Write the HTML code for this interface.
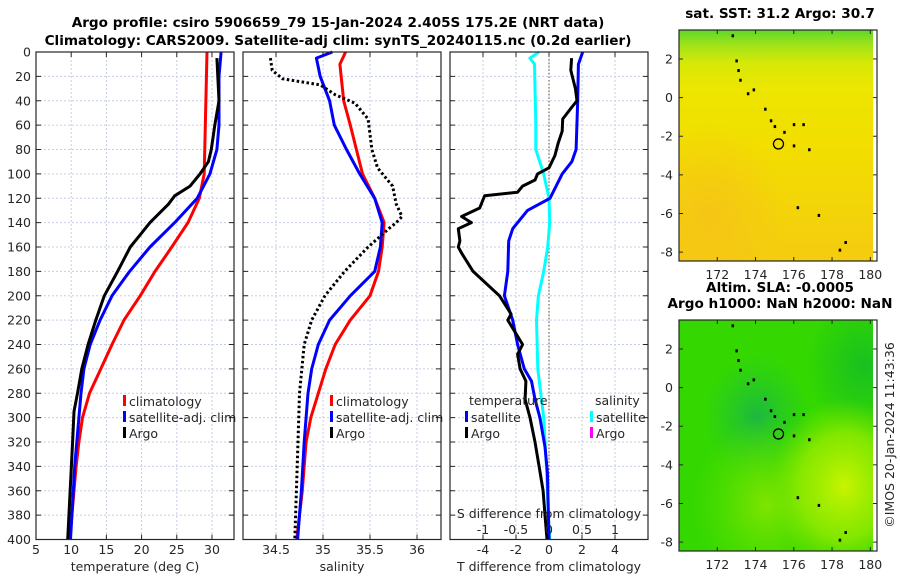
<!DOCTYPE html>
<html><head><meta charset="utf-8"><style>
body{margin:0;background:#fff;}
svg{display:block;font-family:"DejaVu Sans","Liberation Sans",sans-serif;}
.t{font-size:12.5px;fill:#262626;}
.b{font-weight:bold;font-size:13.6px;fill:#000;}
</style></head><body>
<svg id="fig" width="900" height="580" viewBox="0 0 900 580">
<defs>
<linearGradient id="sstg" x1="0" y1="0" x2="0" y2="1">
<stop offset="0" stop-color="#5cd82a"/><stop offset="0.06" stop-color="#9ce21a"/><stop offset="0.14" stop-color="#d6e808"/><stop offset="0.25" stop-color="#ece600"/><stop offset="0.5" stop-color="#f2de00"/><stop offset="1" stop-color="#f4cc10"/>
</linearGradient>
<radialGradient id="sstO" cx="0.15" cy="0.8" r="0.4"><stop offset="0" stop-color="#f6c218" stop-opacity="0.8"/><stop offset="1" stop-color="#f6c218" stop-opacity="0"/></radialGradient>
<radialGradient id="slaY" cx="0.85" cy="0.72" r="0.38"><stop offset="0" stop-color="#c8f400"/><stop offset="0.6" stop-color="#9cec00" stop-opacity="0.75"/><stop offset="1" stop-color="#80e600" stop-opacity="0"/></radialGradient>
<radialGradient id="slaB" cx="0.4" cy="0.42" r="0.28"><stop offset="0" stop-color="#1cb840"/><stop offset="1" stop-color="#22c830" stop-opacity="0"/></radialGradient>
<radialGradient id="slaL" cx="0.45" cy="0.8" r="0.38"><stop offset="0" stop-color="#80e400"/><stop offset="1" stop-color="#60e000" stop-opacity="0"/></radialGradient>
<radialGradient id="slaR" cx="0.95" cy="0.2" r="0.3"><stop offset="0" stop-color="#18c020"/><stop offset="1" stop-color="#18c020" stop-opacity="0"/></radialGradient>
</defs>
<g id="titles">
<text class="b" x="338" y="27" text-anchor="middle">Argo profile: csiro 5906659_79 15-Jan-2024 2.405S 175.2E (NRT data)</text>
<text class="b" x="338" y="45" text-anchor="middle">Climatology: CARS2009. Satellite-adj clim: synTS_20240115.nc (0.2d earlier)</text>
</g>
<g id="p1"></g><g id="p2"></g><g id="p3"></g><g id="m1"></g><g id="m2"></g>
<text class="t" transform="translate(894,435) rotate(-90)" text-anchor="middle">©IMOS 20-Jan-2024 11:43:36</text>
</svg>
<script>
// ---- data ----
const depthTicks=[0,20,40,60,80,100,120,140,160,180,200,220,240,260,280,300,320,340,360,380,400];
const tempTicks=[5,10,15,20,25,30];
const salTicks=[34.5,35,35.5,36];
const salTickLabels=["34.5","35","35.5","36"];
const dTTicks=[-4,-2,0,2,4];
const dSTicks=[-1,-0.5,0,0.5,1];
const dSTickLabels=["-1","-0.5","0","0.5","1"];
// temperature
const climTD=[0,100,120,140,160,180,200,220,240,260,280,300,320,340,360,400];
const climT=[29.3,28.9,28.2,26.6,24.3,21.9,19.8,17.5,15.8,14.2,12.6,11.6,11.1,10.7,10.4,9.8];
const satTD=[0,20,60,80,100,120,140,160,180,200,220,240,260,280,300,340,400];
const satT=[31.3,31.0,31.0,30.7,29.7,27.9,24.7,21.2,18.3,15.8,14.1,12.7,11.8,11.4,11.1,10.5,9.9];
const argoTD=[5,40,60,80,90,100,110,118,125,140,150,160,180,200,220,240,260,280,295,320,400];
const argoT=[30.7,31.0,30.4,29.9,29.5,28.3,26.9,24.7,23.8,21.2,19.8,18.4,16.6,14.7,13.5,12.4,11.5,10.9,10.4,10.2,9.5];
// salinity
const climSD=[0,10,40,60,100,120,140,160,180,200,220,240,260,280,300,320,360,400];
const climS=[35.24,35.18,35.22,35.29,35.42,35.55,35.65,35.63,35.59,35.5,35.29,35.13,35.03,34.95,34.87,34.82,34.78,34.72];
const satSD=[0,5,20,40,60,80,100,120,140,160,180,200,220,240,260,280,320,360,400];
const satS=[35.1,34.93,34.97,35.07,35.12,35.25,35.39,35.55,35.63,35.61,35.55,35.29,35.07,34.95,34.88,34.84,34.8,34.77,34.73];
const argoSD=[5,15,22,27,35,42,55,80,95,110,125,135,140,145,160,180,200,220,240,280,330,400];
const argoS=[34.44,34.46,34.57,34.97,35.13,35.34,35.48,35.52,35.58,35.74,35.78,35.84,35.78,35.7,35.48,35.23,35.02,34.88,34.8,34.75,34.73,34.7];
// differences
const satDSD=[0,5,10,60,80,100,120,140,160,180,200,220,260,300,340,380,400];
const satDS=[-0.15,-0.29,-0.22,-0.2,-0.2,-0.08,0,0.01,-0.02,-0.08,-0.16,-0.19,-0.17,-0.08,-0.04,-0.01,0.01];
const satDTD=[0,10,40,80,90,100,120,130,145,155,180,200,220,240,260,270,285,300,324,345,400];
const satDT=[2.04,1.78,1.74,1.64,1.38,0.8,0.06,-1.3,-2.2,-2.44,-2.5,-2.7,-2.2,-1.9,-1.5,-1.06,-0.85,-0.55,-0.24,-0.1,0];
const argoDTD=[5,15,30,40,45,55,65,75,85,95,100,105,110,115,118,128,135,140,145,155,160,165,180,200,215,220,240,248,260,270,285,300,320,340,360,380,400];
const argoDT=[1.37,1.32,1.6,1.7,1.4,0.83,0.8,0.55,0.36,0,-0.69,-0.85,-1.6,-1.9,-3.9,-4.2,-5.3,-4.7,-5.5,-5.4,-5.5,-5.3,-4.6,-3.0,-2.3,-2.5,-1.6,-1.9,-1.75,-1.4,-1.45,-1.15,-0.85,-0.6,-0.36,-0.24,-0.12];
// maps
const lonTicks=[172,174,176,178,180];
const latTicks=[2,0,-2,-4,-6,-8];
const floatLon=175.2, floatLat=-2.4;
const islandLon=[172.8,173.0,173.1,173.2,173.6,173.9,174.5,174.8,175.0,175.5,176.0,176.5,176.0,176.8,176.2,177.3,178.7,178.4];
const islandLat=[3.2,1.9,1.4,0.9,0.2,0.4,-0.6,-1.2,-1.5,-1.8,-1.4,-1.4,-2.5,-2.7,-5.7,-6.1,-7.5,-7.9];

const NS='http://www.w3.org/2000/svg';
function mk(parent,tag,attrs,text){const e=document.createElementNS(NS,tag);for(const k in attrs)e.setAttribute(k,attrs[k]);if(text!==undefined)e.textContent=text;parent.appendChild(e);return e;}

const Y0=52,Y1=539.5;
function yD(d){return Y0+d*(Y1-Y0)/400;}

function panel(g,L,R,xmin,xmax,xGrid,name){
  const sx=v=>L+(v-xmin)*(R-L)/(xmax-xmin);
  const bg=mk(g,'rect',{x:L,y:Y0,width:R-L,height:Y1-Y0,fill:'#fff'});
  
  
  depthTicks.forEach(d=>{if(d>0&&d<400){const l=mk(g,'line',{x1:L,x2:R,y1:yD(d),y2:yD(d),stroke:'#c6cde6','stroke-width':1,'stroke-dasharray':'2,2'});
    
    
    mk(g,'line',{x1:L,x2:L+5,y1:yD(d),y2:yD(d),stroke:'#262626'});mk(g,'line',{x1:R,x2:R-5,y1:yD(d),y2:yD(d),stroke:'#262626'});}});
  xGrid.forEach(v=>{const x=sx(v);if(x>L+1&&x<R-1){const l=mk(g,'line',{x1:x,x2:x,y1:Y0,y2:Y1,stroke:'#c6cde6','stroke-width':1,'stroke-dasharray':'2,2'});
    
    
    mk(g,'line',{x1:x,x2:x,y1:Y1,y2:Y1-5,stroke:'#262626'});mk(g,'line',{x1:x,x2:x,y1:Y0,y2:Y0+5,stroke:'#262626'});}});
  return sx;
}
function frame(g,L,R,name){const f=mk(g,'rect',{x:L,y:Y0,width:R-L,height:Y1-Y0,fill:'none',stroke:'#262626','stroke-width':1.2});
  
  }
function line(g,xs,ds,sx,color,name,dash){
  const pts=xs.map((v,i)=>sx(v).toFixed(1)+','+yD(ds[i]).toFixed(1)).join(' ');
  const p=mk(g,'polyline',{points:pts,fill:'none',stroke:color,'stroke-width':3,'stroke-linejoin':'round'});
  if(dash)p.setAttribute('stroke-dasharray',dash);
  
  
}
function legend(g,x,y,color,label,name){
  mk(g,'rect',{x:x,y:y-6,width:3,height:11,fill:color});
  const t=mk(g,'text',{class:'t',x:x+6,y:y+5},label);
  
  
}

// Panel 1
const g1=document.getElementById('p1');
const sx1=panel(g1,36,234,5,33.13,tempTicks,'temperature');
line(g1,climT,climTD,sx1,'#ff0000','temperature-climatology-line');
line(g1,satT,satTD,sx1,'#0000ff','temperature-satellite-line');
line(g1,argoT,argoTD,sx1,'#000000','temperature-argo-line');
frame(g1,36,234,'temperature');
depthTicks.forEach(d=>{const t=mk(g1,'text',{class:'t',x:31,y:yD(d)+4.5,'text-anchor':'end'},String(d));
  
  });
tempTicks.forEach(v=>{const t=mk(g1,'text',{class:'t',x:sx1(v),y:554,'text-anchor':'middle'},String(v));
  
  });
{const t=mk(g1,'text',{class:'t',x:135,y:571,'text-anchor':'middle'},'temperature (deg C)');

}
legend(g1,123,401,'#ff0000','climatology','legend-entry-climatology');
legend(g1,123,417,'#0000ff','satellite-adj. clim','legend-entry-satellite');
legend(g1,123,433,'#000000','Argo','legend-entry-argo');

// Panel 2
const g2=document.getElementById('p2');
const sx2=panel(g2,243,441,34.149,36.255,salTicks,'salinity');
line(g2,climS,climSD,sx2,'#ff0000','salinity-climatology-line');
line(g2,satS,satSD,sx2,'#0000ff','salinity-satellite-line');
line(g2,argoS,argoSD,sx2,'#000000','salinity-argo-line','2.5,2.5');
frame(g2,243,441,'salinity');
salTicks.forEach((v,i)=>{const t=mk(g2,'text',{class:'t',x:sx2(v),y:554,'text-anchor':'middle'},salTickLabels[i]);
  
  });
{const t=mk(g2,'text',{class:'t',x:342,y:571,'text-anchor':'middle'},'salinity');

}
legend(g2,330,401,'#ff0000','climatology','legend-entry-climatology');
legend(g2,330,417,'#0000ff','satellite-adj. clim','legend-entry-satellite');
legend(g2,330,433,'#000000','Argo','legend-entry-argo');

// Panel 3
const g3=document.getElementById('p3');
const sx3=panel(g3,450,648,-6,6,dTTicks,'difference');
const sxS=v=>sx3(v*4);
mk(g3,'line',{x1:sx3(0),x2:sx3(0),y1:Y0,y2:Y1,stroke:'#6b4a2a','stroke-width':1,'stroke-dasharray':'1.5,2'});
line(g3,satDS,satDSD,sxS,'#00ffff','salinity-difference-satellite-line');
line(g3,satDT,satDTD,sx3,'#0000ff','temperature-difference-satellite-line');
line(g3,argoDT,argoDTD,sx3,'#000000','temperature-difference-argo-line');
frame(g3,450,648,'difference');
{const t=mk(g3,'text',{class:'t',x:469,y:405},'temperature');}
{const t=mk(g3,'text',{class:'t',x:595,y:405},'salinity');}
legend(g3,465,417,'#0000ff','satellite','legend-entry-t-satellite');
legend(g3,465,433,'#000000','Argo','legend-entry-t-argo');
legend(g3,590,417,'#00ffff','satellite','legend-entry-s-satellite');
legend(g3,590,433,'#ff00ff','Argo','legend-entry-s-argo');
{const t=mk(g3,'text',{class:'t',x:549,y:518,'text-anchor':'middle'},'S difference from climatology');}
dSTicks.forEach((v,i)=>{const t=mk(g3,'text',{class:'t',x:sxS(v),y:534,'text-anchor':'middle'},dSTickLabels[i]);
  
  });
dTTicks.forEach(v=>{const t=mk(g3,'text',{class:'t',x:sx3(v),y:554,'text-anchor':'middle'},String(v));
  
  });
{const t=mk(g3,'text',{class:'t',x:549,y:571,'text-anchor':'middle'},'T difference from climatology');}

// Maps
function map(g,top,bottom,fills,titles,name){
  const L=679,R=877,lon0=170.0,lon1=180.35,lat0=3.5,lat1=-8.46;
  const mx=v=>L+(v-lon0)*(R-L)/(lon1-lon0);
  const my=v=>top+(lat0-v)*(bottom-top)/(lat0-lat1);
  fills.forEach(f=>{const r=mk(g,'rect',{x:L,y:top,width:R-4-L,height:bottom-top,fill:f});
    
    });
  islandLon.forEach((lo,i)=>{const d=mk(g,'rect',{x:mx(lo)-1,y:my(islandLat[i])-1.5,width:2.5,height:3,fill:'#000'});
    
    });
  const c=mk(g,'circle',{cx:mx(floatLon),cy:my(floatLat),r:5,fill:'none',stroke:'#000','stroke-width':1.3});
  
  
  const fr=mk(g,'rect',{x:L,y:top,width:R-L,height:bottom-top,fill:'none',stroke:'#262626','stroke-width':1.2});
  
  
  latTicks.forEach(v=>{mk(g,'line',{x1:L,x2:L+4,y1:my(v),y2:my(v),stroke:'#262626'});mk(g,'line',{x1:R,x2:R-4,y1:my(v),y2:my(v),stroke:'#262626'});
    const t=mk(g,'text',{class:'t',x:673,y:my(v)+4.5,'text-anchor':'end'},String(v));
    
    });
  lonTicks.forEach(v=>{mk(g,'line',{x1:mx(v),x2:mx(v),y1:bottom,y2:bottom-4,stroke:'#262626'});mk(g,'line',{x1:mx(v),x2:mx(v),y1:top,y2:top+4,stroke:'#262626'});
    const t=mk(g,'text',{class:'t',x:mx(v),y:bottom+18,'text-anchor':'middle'},String(v));
    
    });
  titles.forEach((s,i)=>{const t=mk(g,'text',{class:'b',x:780,y:top-(titles.length-i)*16+4,'text-anchor':'middle'},s);
    
    });
}
map(document.getElementById('m1'),30,261,['url(#sstg)','url(#sstO)'],['sat. SST: 31.2 Argo: 30.7'],'sst-map');
map(document.getElementById('m2'),320,551,['#34d800','url(#slaB)','url(#slaR)','url(#slaL)','url(#slaY)'],['Altim. SLA: -0.0005','Argo h1000: NaN h2000: NaN'],'sla-map');
</script>
</body></html>
